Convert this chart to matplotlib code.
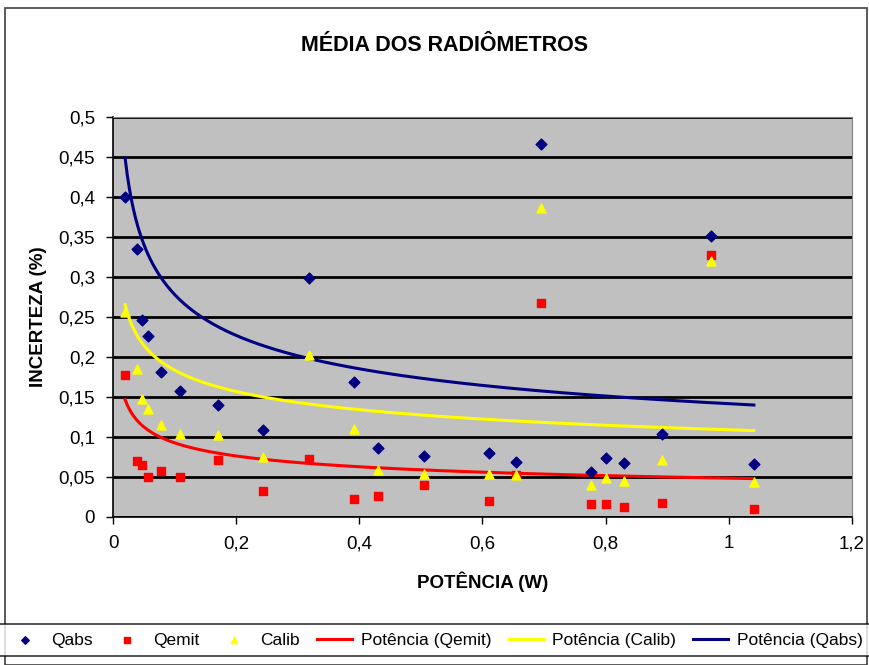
import numpy as np
import matplotlib
matplotlib.use("Agg")
from matplotlib import pyplot as plt

plt.rcParams['font.family'] = ['Liberation Sans', 'DejaVu Sans']

# potência (W)
potencia = [0.0195, 0.039, 0.047, 0.057, 0.078, 0.109, 0.17, 0.244, 0.318, 0.391,
            0.43, 0.505, 0.61, 0.655, 0.695, 0.776, 0.80, 0.83, 0.892, 0.971, 1.041]
qabs = [0.40, 0.335, 0.246, 0.226, 0.181, 0.158, 0.14, 0.109, 0.299, 0.169,
        0.086, 0.076, 0.08, 0.069, 0.466, 0.056, 0.074, 0.068, 0.104, 0.351, 0.066]
qemit = [0.178, 0.07, 0.065, 0.05, 0.058, 0.05, 0.071, 0.032, 0.072, 0.022,
         0.026, 0.04, 0.02, 0.052, 0.267, 0.016, 0.016, 0.012, 0.017, 0.327, 0.01]
calib = [0.256, 0.185, 0.148, 0.135, 0.115, 0.104, 0.103, 0.075, 0.203, 0.11,
         0.059, 0.054, 0.054, 0.052, 0.386, 0.04, 0.049, 0.045, 0.071, 0.32, 0.044]

# linhas de tendência (potência): y = a * x^b
trend_qemit = (0.0485, -0.281)
trend_calib = (0.109, -0.226)
trend_qabs = (0.1416, -0.293)

xticks = [0, 0.2, 0.4, 0.6, 0.8, 1.0, 1.2]
yticks = [0, 0.05, 0.1, 0.15, 0.2, 0.25, 0.3, 0.35, 0.4, 0.45, 0.5]


def power_curve(x, coef):
    a, b = coef
    xs = np.linspace(min(x), max(x), 300)
    return xs, a * xs ** b


def fmt(v):
    return ('%g' % round(v, 2)).replace('.', ',')


fig = plt.figure(figsize=(8.7, 6.65), dpi=100)
ax = fig.add_axes([0.130, 0.2226, 0.849, 0.6015])
ax.set_facecolor('#C0C0C0')

navy, red, yellow = '#000080', '#FF0000', '#FFFF00'

ax.scatter(potencia, qabs, marker='D', s=30, color=navy, zorder=4, label='Qabs')
ax.scatter(potencia, qemit, marker='s', s=36, color=red, zorder=3, label='Qemit')
ax.scatter(potencia, calib, marker='^', s=42, color=yellow, zorder=3, label='Calib')

xs, ys = power_curve(potencia, trend_qemit)
ax.plot(xs, ys, color=red, lw=2.2, zorder=2, label='Potência (Qemit)')
xs, ys = power_curve(potencia, trend_calib)
ax.plot(xs, ys, color=yellow, lw=2.2, zorder=2, label='Potência (Calib)')
xs, ys = power_curve(potencia, trend_qabs)
ax.plot(xs, ys, color=navy, lw=2.2, zorder=2, label='Potência (Qabs)')

ax.set_xlim(0, 1.2)
ax.set_ylim(0, 0.5)
ax.set_xticks(xticks)
ax.set_yticks(yticks)
ax.set_xticklabels([fmt(v) for v in xticks])
ax.set_yticklabels([fmt(v) for v in yticks])
ax.tick_params(direction='out', length=5, width=1, labelsize=13.5, pad=8)
ax.yaxis.grid(True, color='black', lw=2)
ax.set_axisbelow(True)
for s in ['top', 'right']:
    ax.spines[s].set_color('#808080')
for s in ['left', 'bottom']:
    ax.spines[s].set_color('black')
    ax.spines[s].set_linewidth(1.2)

ax.set_xlabel('POTÊNCIA (W)', fontsize=13.5, fontweight='bold', labelpad=14)
ax.set_ylabel('INCERTEZA (%)', fontsize=13.5, fontweight='bold', labelpad=8)
fig.text(0.511, 0.932, 'MÉDIA DOS RADIÔMETROS', ha='center', va='center',
         fontsize=15.5, fontweight='bold')

# borda do gráfico
fig.patches.append(plt.Rectangle((0.006, 0.0), 0.99, 0.988, transform=fig.transFigure,
                                 fill=False, edgecolor='#404040', lw=1.2))

leg = fig.legend(loc='lower center', bbox_to_anchor=(0.5, 0.0), ncol=6,
                 fontsize=12.5, frameon=True, fancybox=False, edgecolor='black',
                 handlelength=2.0, handletextpad=0.5, columnspacing=1.0,
                 borderpad=0.5, markerscale=0.7)
leg.get_frame().set_linewidth(1.2)

fig.savefig('out.png', dpi=100)
